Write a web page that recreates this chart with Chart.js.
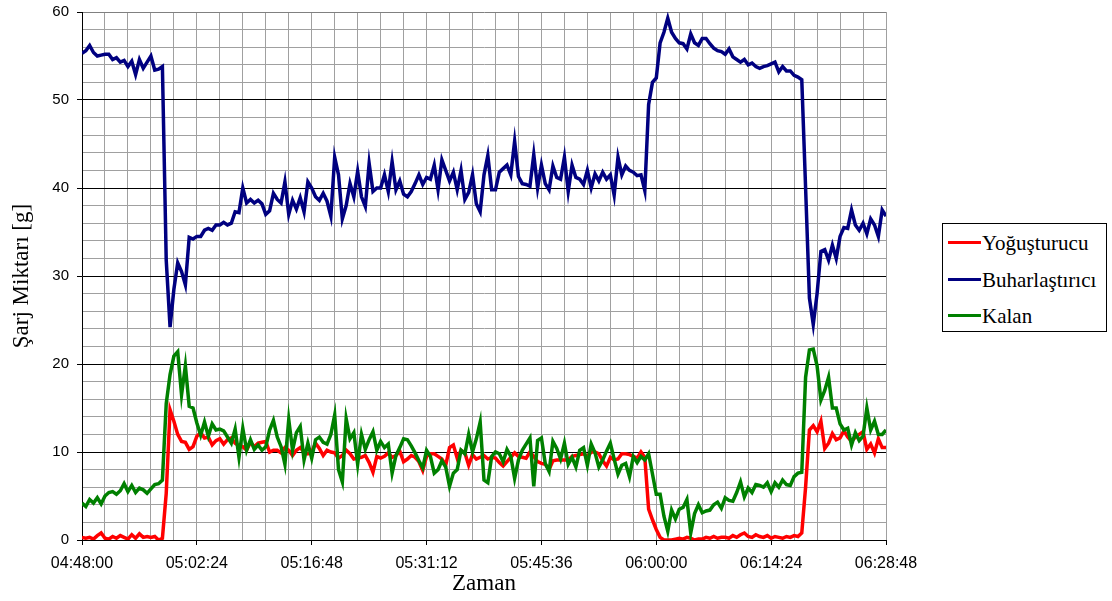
<!DOCTYPE html>
<html>
<head>
<meta charset="utf-8">
<script src="https://cdn.jsdelivr.net/npm/chart.js@4.4.1/dist/chart.umd.min.js"></script>
<style>
  html, body { margin: 0; padding: 0; background: #fff; }
  #wrap { position: relative; width: 1112px; height: 601px; }
  #legend { position: absolute; left: 942px; top: 223px; width: 165px; height: 109px;
            border: 1px solid #000; box-sizing: border-box; background: #fff;
            font-family: 'Liberation Serif', 'Times New Roman', serif; font-size: 21px; color: #000; }
  .item { position: absolute; left: 0; height: 24px; line-height: 24px; white-space: nowrap; }
  .swatch { position: absolute; left: 5px; width: 33px; height: 3px; }
  .label { position: absolute; left: 39px; top: 0; }
</style>
</head>
<body>
<div id="wrap">
  <canvas id="c" width="1112" height="601"></canvas>
  <div id="legend"></div>
</div>
<script>
// ---- data ----
const startTime = '04:48:00';
const sampleStepSeconds = 28.8;          // spacing between samples
const axisEndSeconds = 6048;             // 04:48:00 -> 06:28:48
const minorTickSeconds = 172.8;
const majorEvery = 5;                    // labelled tick every 14:24

const seriesNames = ['Yoğuşturucu', 'Buharlaştırıcı', 'Kalan'];
const seriesColors = ['#ff0000', '#000080', '#008000'];

const yogusturucu = [
 0.3,0.2,0.3,0.1,0.5,0.8,
 0.2,0.1,0.4,0.2,0.5,0.3,
 0.1,0.6,0.2,0.7,0.3,0.4,
 0.3,0.4,0.0,0.2,5.3,14.8,
 13.5,12.0,11.2,11.1,10.3,10.6,
 11.8,12.2,11.6,11.7,10.8,11.3,
 11.5,10.9,11.4,11.6,11.0,10.7,
 10.6,10.2,11.1,10.6,11.0,11.1,
 11.2,10.0,10.2,10.2,9.9,10.5,
 10.2,9.6,10.2,10.5,10.0,9.8,
 10.0,11.0,10.4,9.6,10.2,10.0,
 9.9,9.3,9.6,10.2,9.8,9.2,
 9.3,9.4,9.6,8.8,7.7,9.5,
 9.3,9.5,9.9,9.4,9.6,10.1,
 8.9,9.2,9.6,9.4,8.9,7.9,
 9.5,9.8,9.8,9.5,9.2,8.5,
 10.5,10.8,9.3,10.2,9.9,8.5,
 9.7,9.2,9.4,9.6,9.2,9.4,
 9.3,8.8,8.4,8.9,9.4,9.9,
 9.5,9.4,9.3,10.0,9.5,8.9,
 8.7,8.6,8.0,9.0,9.1,9.1,
 9.1,9.1,9.5,9.6,9.7,9.8,
 9.5,10.0,10.0,9.8,9.0,8.4,
 9.4,9.1,9.2,9.8,9.8,9.7,
 9.5,9.3,10.0,9.4,3.5,2.3,
 1.2,0.3,0.0,0.0,0.0,0.1,
 0.2,0.1,0.3,0.2,0.0,0.1,
 0.1,0.3,0.2,0.4,0.2,0.3,
 0.3,0.2,0.5,0.3,0.6,0.8,
 0.4,0.3,0.6,0.4,0.3,0.5,
 0.2,0.4,0.3,0.2,0.4,0.3,
 0.5,0.4,0.8,6.0,12.5,13.0,
 12.3,13.5,10.4,11.0,12.1,11.4,
 11.6,12.4,11.7,11.2,11.7,12.0,
 12.3,10.3,10.9,9.9,11.5,10.5,
 10.5
];

const buharlastirici = [
 55.3,55.6,56.2,55.4,55.0,55.1,
 55.2,55.2,54.6,54.8,54.3,54.5,
 53.8,54.4,52.9,54.6,53.6,54.3,
 55.0,53.4,53.5,53.8,31.8,24.2,
 28.5,31.5,30.5,29.0,34.4,34.2,
 34.5,34.5,35.2,35.4,35.2,35.8,
 35.8,36.1,35.8,36.0,37.3,37.2,
 40.0,38.3,38.7,38.3,38.6,38.2,
 37.0,37.4,39.4,38.7,38.3,40.7,
 37.0,38.6,37.6,38.9,37.3,40.7,
 40.0,39.0,38.6,39.4,38.5,36.8,
 43.5,41.5,36.5,38.0,40.5,39.0,
 41.9,39.0,37.9,42.8,39.6,40.0,
 40.0,41.5,39.6,43.0,39.8,40.8,
 39.3,39.0,39.6,40.5,41.5,40.4,
 41.2,41.0,42.6,39.8,43.2,42.0,
 40.8,41.8,39.8,42.0,38.7,39.5,
 41.5,38.2,37.3,41.5,43.7,39.8,
 39.8,41.8,42.2,42.6,41.5,45.3,
 41.3,40.5,40.4,40.2,43.8,40.0,
 42.6,40.5,39.8,42.5,41.2,41.0,
 43.5,39.6,42.6,41.2,41.0,40.4,
 42.0,40.0,41.6,40.8,41.8,41.0,
 41.5,39.2,43.5,41.5,42.5,42.0,
 41.8,41.4,41.5,39.7,49.5,52.0,
 52.5,56.5,57.7,59.3,57.7,57.0,
 56.5,56.4,55.8,57.5,56.5,56.2,
 57.0,57.0,56.4,55.9,55.6,55.5,
 55.2,55.8,54.9,54.6,54.3,54.6,
 54.0,54.2,53.8,53.6,53.8,53.9,
 54.1,54.3,53.2,53.8,53.3,53.3,
 52.8,52.6,52.3,40.0,27.5,24.5,
 28.0,32.8,33.0,31.8,33.5,32.0,
 34.5,35.5,35.4,37.5,35.8,35.2,
 36.0,34.8,36.5,35.8,34.5,37.5,
 36.8
];

const kalan = [
 4.2,3.8,4.6,4.2,4.8,4.1,
 5.0,5.4,5.5,5.2,5.6,6.4,
 5.5,6.2,5.4,5.9,5.7,5.3,
 5.8,6.3,6.4,6.8,15.5,18.8,
 20.9,21.4,16.5,19.8,15.2,15.0,
 13.3,11.9,13.4,11.8,13.2,12.5,
 12.6,12.4,11.7,11.0,12.6,9.4,
 12.7,10.2,11.4,10.3,10.8,10.2,
 10.6,12.5,13.6,11.7,10.6,8.6,
 13.7,10.2,12.2,12.9,9.1,11.0,
 9.3,11.4,11.7,11.1,10.9,12.0,
 14.2,8.0,6.6,13.8,11.5,12.2,
 8.6,12.0,10.3,11.4,12.3,10.2,
 11.2,10.5,10.9,7.6,9.6,10.5,
 11.5,11.4,10.7,9.9,9.0,8.2,
 10.2,9.5,7.6,8.0,9.0,8.3,
 6.1,7.6,8.0,10.2,9.8,12.0,
 10.0,11.5,13.4,6.8,6.5,9.5,
 10.0,9.8,8.9,10.3,9.5,7.0,
 9.1,10.2,10.9,11.6,6.1,11.3,
 11.6,8.7,7.8,11.2,10.4,9.2,
 11.0,8.6,9.4,8.3,10.2,10.5,
 8.5,10.9,9.9,8.3,9.1,10.1,
 11.0,9.2,7.5,8.5,8.7,7.2,
 9.5,8.8,9.5,9.1,9.8,7.5,
 5.2,5.2,2.7,1.0,3.4,2.4,
 3.5,3.7,4.6,0.8,3.0,4.0,
 3.1,3.3,3.4,4.0,4.3,3.6,
 4.8,4.5,4.4,5.4,6.6,4.9,
 5.9,5.4,6.3,6.2,6.0,6.5,
 5.5,6.5,6.0,6.8,6.3,6.2,
 7.2,7.6,7.7,18.5,21.6,21.7,
 19.8,15.9,17.0,18.5,15.0,15.0,
 13.2,12.5,12.7,10.8,12.2,11.3,
 11.8,15.0,12.5,13.5,12.0,12.0,
 12.5
];

const yMin = 0, yMax = 60, yMinorStep = 2, yMajorStep = 10;

// ---- helpers ----
function toSeconds(hms) { const [h, m, s] = hms.split(':').map(Number); return h * 3600 + m * 60 + s; }
const startSec = toSeconds(startTime);
function fmt(sec) {
  let t = Math.round(startSec + sec);
  const h = Math.floor(t / 3600); t -= h * 3600;
  const m = Math.floor(t / 60); const s = t - m * 60;
  const p = n => String(n).padStart(2, '0');
  return p(h) + ':' + p(m) + ':' + p(s);
}
const toPoints = arr => arr.map((v, i) => ({ x: i * sampleStepSeconds, y: v }));
const seriesValues = [yogusturucu, buharlastirici, kalan];
const drawOrder = [2, 1, 0];

const GRID = '#a0a0a0';
const TITLE_FONT = { family: "'Liberation Serif', 'Times New Roman', serif", size: 23 };

new Chart(document.getElementById('c'), {
  type: 'line',
  data: {
    datasets: seriesValues.map((vals, k) => ({
      label: seriesNames[k],
      data: toPoints(vals),
      borderColor: seriesColors[k],
      backgroundColor: seriesColors[k],
      borderWidth: 3.5,
      pointRadius: 0,
      tension: 0,
      fill: false,
      order: drawOrder[k]
    }))
  },
  options: {
    responsive: false,
    animation: false,
    devicePixelRatio: 1,
    layout: { padding: { top: 12, right: 226, left: 0, bottom: 0 } },
    plugins: { legend: { display: false }, tooltip: { enabled: false } },
    scales: {
      x: {
        type: 'linear',
        min: 0, max: axisEndSeconds,
        afterBuildTicks: s => {
          const n = Math.round(axisEndSeconds / minorTickSeconds);
          s.ticks = Array.from({ length: n + 1 }, (_, k) => ({ value: k * minorTickSeconds }));
        },
        afterFit: s => { s.height = 61; s.paddingLeft = 0; },
        ticks: {
          autoSkip: false, maxRotation: 0, minRotation: 0, padding: 9,
          color: '#000',
          font: { family: "'Liberation Sans', Arial, sans-serif", size: 16 },
          callback: (v, i) => (i % majorEvery === 0 ? fmt(v) : '')
        },
        grid: {
          color: GRID, lineWidth: 1, tickLength: 5,
          tickColor: c => (c.index % majorEvery === 0 ? '#000' : 'rgba(0,0,0,0)')
        },
        border: { color: '#000', width: 1 },
        title: {
          display: true, text: 'Zaman', color: '#000',
          font: TITLE_FONT,
          padding: { top: 0, bottom: 3 }
        }
      },
      y: {
        min: yMin, max: yMax,
        afterBuildTicks: s => {
          const n = Math.round((yMax - yMin) / yMinorStep);
          s.ticks = Array.from({ length: n + 1 }, (_, k) => ({ value: yMin + k * yMinorStep }));
        },
        afterFit: s => { s.width = 82; s.paddingTop = 0; s.paddingBottom = 0; },
        ticks: {
          autoSkip: false, padding: 8, color: '#000',
          font: { family: "'Liberation Sans', Arial, sans-serif", size: 15 },
          callback: v => (Math.round(v) % yMajorStep === 0 ? String(Math.round(v)) : '')
        },
        grid: {
          lineWidth: 1, tickLength: 5,
          color: c => {
            const v = Math.round(c.tick.value);
            if (v === yMax) return '#808080';
            return v % yMajorStep === 0 ? '#000' : GRID;
          },
          tickColor: c => (Math.round(c.tick.value) % yMajorStep === 0 ? '#000' : 'rgba(0,0,0,0)')
        },
        border: { color: '#000', width: 1 },
        title: {
          display: true, text: 'Şarj Miktarı [g]', color: '#000',
          font: TITLE_FONT,
          padding: { top: 8, bottom: 0 }
        }
      }
    }
  }
});

// ---- legend built from the series names/colours ----
const legend = document.getElementById('legend');
const itemTops = [7, 44, 80];
seriesNames.forEach((name, k) => {
  const it = document.createElement('div');
  it.className = 'item';
  it.style.top = itemTops[k] + 'px';
  const sw = document.createElement('div');
  sw.className = 'swatch';
  sw.style.background = seriesColors[k];
  sw.style.top = '10px';
  const lb = document.createElement('div');
  lb.className = 'label';
  lb.textContent = name;
  it.appendChild(sw); it.appendChild(lb);
  legend.appendChild(it);
});
</script>
</body>
</html>
